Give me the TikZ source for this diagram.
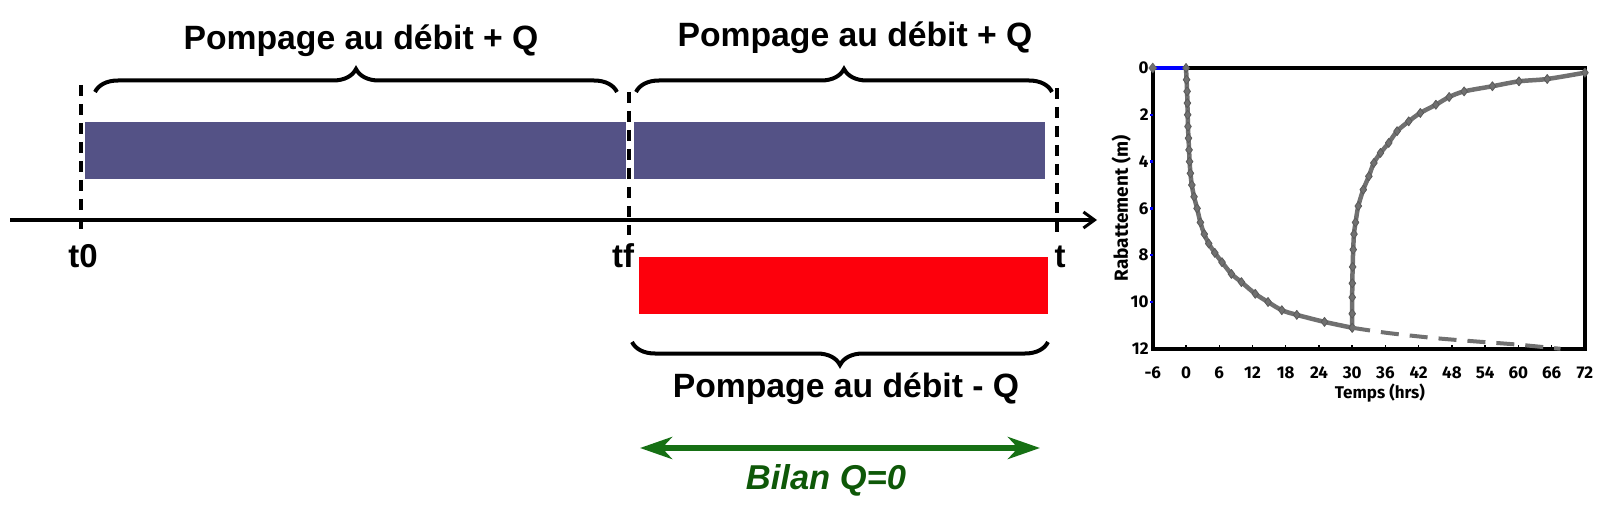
\documentclass[tikz,border=0pt]{standalone}
\usepackage{fontspec}
\setmainfont{Liberation Sans}
\newfontfamily\plotfont{Fira Sans}
\usetikzlibrary{decorations.pathreplacing,arrows.meta,plotmarks}
\definecolor{barblue}{RGB}{84,82,134}
\definecolor{barred}{RGB}{253,0,12}
\definecolor{bilangreen}{RGB}{22,112,20}
\definecolor{bilantext}{RGB}{14,88,8}
\definecolor{curvegray}{RGB}{112,112,112}
\definecolor{markgray}{RGB}{90,90,90}
\tikzset{
  bigtxt/.style={font=\fontsize{33.7}{40}\selectfont\bfseries, inner sep=0pt},
  tlabel/.style={font=\fontsize{33}{38}\selectfont\bfseries, inner sep=0pt},
  vdashline/.style={line width=4pt, dash pattern=on 11pt off 8pt},
  bracedeco/.style={decorate, decoration={brace, amplitude=23pt}, line width=4pt},
  bracedecomir/.style={decorate, decoration={brace, mirror, amplitude=23pt}, line width=4pt},
  barbox/.style={anchor=north west, inner sep=0pt, minimum height=57pt},
  plotlbl/.style={font=\plotfont\bfseries\fontsize{17}{19}\selectfont, inner sep=0pt},
  curve/.style={curvegray, line width=4.5pt, line join=round},
  beads/.style={mark=diamond*, mark size=4.5pt, mark options={solid, fill=curvegray, draw=markgray, line width=0.8pt}},
}
\begin{document}
\begin{tikzpicture}[x=1pt,y=-1pt]
\useasboundingbox (0,0) rectangle (1618,508);
% bars
\node[barbox, fill=barblue, minimum width=541pt] (bar1) at (85,122) {};
\node[barbox, fill=barblue, minimum width=411pt] (bar2) at (634,122) {};
\node[barbox, fill=barred, minimum width=409pt] (bar3) at (639,257) {};
% time axis
\coordinate (axL) at (10,220);
\coordinate (axR) at (1097,220);
\draw[line width=3.3pt, -{Straight Barb[length=11pt,width=16pt,line width=3pt]}] (axL) -- (axR);
% dashed verticals
\coordinate (t0top) at (80.5,85);   \coordinate (t0bot) at (80.5,230);
\coordinate (tftop) at (629,92);    \coordinate (tfbot) at (629,235);
\coordinate (tttop) at (1057,88);   \coordinate (ttbot) at (1057,232);
\draw[vdashline] (t0top) -- (t0bot);
\draw[vdashline] (tftop) -- (tfbot);
\draw[vdashline] (tttop) -- (ttbot);
\node[tlabel, anchor=base] (lt0) at (83,267) {t0};
\node[tlabel, anchor=base] (ltf) at (623,267) {tf};
\node[tlabel, anchor=base] (ltt) at (1060,267) {t};
% braces
\coordinate (b1L) at (95,92);   \coordinate (b1R) at (617,92);
\coordinate (b2L) at (636,92);  \coordinate (b2R) at (1052,92);
\coordinate (b3L) at (632,342); \coordinate (b3R) at (1048,342);
\draw[bracedeco] (b1L) -- (b1R);
\draw[bracedeco] (b2L) -- (b2R);
\draw[bracedecomir] (b3L) -- (b3R);
\node[bigtxt, anchor=base] (lab1) at (361,50) {Pompage au débit + Q};
\node[bigtxt, anchor=base] (lab2) at (855,47) {Pompage au débit + Q};
\node[bigtxt, anchor=base] (lab3) at (846,397) {Pompage au débit - Q};
% bilan arrow
\coordinate (gL) at (640,448);
\coordinate (gR) at (1040,448);
\draw[bilangreen, line width=6pt, {Stealth[length=32pt,width=22pt,inset=10pt]}-{Stealth[length=32pt,width=22pt,inset=10pt]}] (gL) -- (gR);
\node[bigtxt, font=\fontsize{34.5}{40}\selectfont\bfseries\itshape, text=bilantext, anchor=base] (bilan) at (826,489) {Bilan Q=0};
% graph
\begin{scope}[xshift=1186pt, yshift=-68pt, x=5.54pt, y=-23.4pt]
  \draw[line width=4pt] (-6,0) rectangle (72,12);
  \draw[blue, line width=4pt] (-6,0) -- (0,0);
  \foreach \s in {2,4,6,8,10} \draw[blue, line width=2.5pt] (-6,\s) -- ++(-3pt,0);
  \foreach \t in {0,6,...,66} \draw[line width=1.5pt] (\t,12) -- ++(0,4pt);
  % pumping curve
  \draw[curve] plot[smooth, tension=0.5, beads] coordinates {(0,0) (0.1,0.5) (0.2,1.0) (0.25,1.5) (0.3,2) (0.35,2.5) (0.45,3) (0.55,3.5) (0.65,4) (0.8,4.5) (1.05,5) (1.45,5.5) (2,6) (2.6,6.6) (3.3,7.1) (4.1,7.5) (5.2,7.9) (6.5,8.3) (8.2,8.8) (10,9.15) (12.5,9.65) (14.8,10.0) (17.3,10.35) (20,10.55) (25,10.85) (30,11.1)};
  % recovery curve
  \draw[curve] plot[smooth, tension=0.5, beads] coordinates {(30,11.1) (30,10.5) (30,9.8) (30.02,9.2) (30.08,8.5) (30.18,7.76) (30.32,7.1) (30.6,6.6) (31.1,5.9) (32,5.2) (33,4.63) (33.9,4.06) (35.1,3.63) (36.6,3.2) (38.1,2.7) (40.2,2.28) (42.3,1.92) (45.1,1.57) (47.5,1.24) (50.2,1.0) (55.3,0.78) (60.1,0.57) (65.2,0.47) (72,0.2)};
  % continued pumping (dashed)
  \draw[curvegray, line width=4pt, dash pattern=on 18pt off 11pt] plot[smooth] coordinates {(30,11.1) (36.3,11.32) (44.8,11.54) (52,11.68) (59.8,11.82) (67.6,12.0)};
  \draw[fill=curvegray, draw=markgray] (-6,0) ++(-4pt,0) -- ++(4pt,5pt) -- ++(4pt,-5pt) -- ++(-4pt,-5pt) -- cycle;
  % tick labels
  \foreach \t in {-6,0,6,12,18,24,30,36,42,48,54,60,66,72}
    \node[plotlbl] (xl\t) at (\t,12) [yshift=-24pt] {\t};
  \foreach \s in {0,2,4,6,8,10,12}
    \node[plotlbl, anchor=east] (yl\s) at (-6,\s) [xshift=-4pt] {\s};
  \node[plotlbl] (xtitle) at (35,12) [yshift=-44pt] {Temps (hrs)};
  \node[plotlbl, font=\plotfont\bfseries\fontsize{19}{21}\selectfont, rotate=90] (ytitle) at (-11.7,6) {Rabattement (m)};
\end{scope}
\end{tikzpicture}
\end{document}
